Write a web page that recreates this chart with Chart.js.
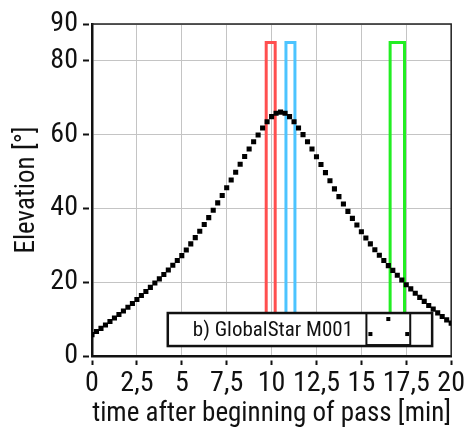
<!DOCTYPE html>
<html lang="en">
<head>
    <meta charset="UTF-8">
    <title>GlobalStar M001 pass</title>
    <style>
        body { margin: 0; background: #fff; }
        #wrap { width: 467px; height: 436px; }
    </style>
</head>
<body>
    <div id="wrap"><canvas id="passChart" width="467" height="436"></canvas></div>

    <script src="https://cdn.jsdelivr.net/npm/chart.js"></script>
    <script>
        // time after beginning of pass [min]
        const timeMin = [
            0, 0.25, 0.5, 0.75, 1, 1.25, 1.5, 1.75, 2, 2.25,
            2.5, 2.75, 3, 3.25, 3.5, 3.75, 4, 4.25, 4.5, 4.75,
            5, 5.25, 5.5, 5.75, 6, 6.25, 6.5, 6.75, 7, 7.25,
            7.5, 7.75, 8, 8.25, 8.5, 8.75, 9, 9.25, 9.5, 9.75,
            10, 10.25, 10.5, 10.75, 11, 11.25, 11.5, 11.75, 12, 12.25,
            12.5, 12.75, 13, 13.25, 13.5, 13.75, 14, 14.25, 14.5, 14.75,
            15, 15.25, 15.5, 15.75, 16, 16.25, 16.5, 16.75, 17, 17.25,
            17.5, 17.75, 18, 18.25, 18.5, 18.75, 19, 19.25, 19.5, 19.75,
            20
        ];
        // elevation [deg]
        const elevation = [
            5.8, 6.65, 7.5, 8.4, 9.35, 10.3, 11.25, 12.2, 13.2, 14.25,
            15.3, 16.4, 17.5, 18.6, 19.8, 20.9, 22.1, 23.3, 24.6, 25.9,
            27.2, 28.75, 30.4, 32.1, 33.8, 35.65, 37.5, 39.5, 41.5, 43.5,
            45.6, 47.7, 49.8, 52.0, 54.1, 56.1, 58.1, 59.9, 61.8, 63.5,
            64.9, 65.8, 66.1, 65.8, 64.9, 63.5, 61.8, 60.0, 58.1, 56.1,
            54.0, 51.9, 49.7, 47.5, 45.3, 43.2, 41.2, 39.2, 37.3, 35.5,
            33.7, 32.0, 30.4, 28.8, 27.3, 25.9, 24.5, 23.2, 21.9, 20.6,
            19.3, 18.2, 17.0, 15.9, 14.8, 13.7, 12.7, 11.7, 10.7, 9.8,
            8.9
        ];

        // the three coloured windows
        const windowStart = [9.7, 10.8, 16.6];
        const windowEnd = [10.2, 11.3, 17.4];
        const windowTop = [85, 85, 85];
        const windowBottom = [5, 5, 5];
        const windowColors = ['#ff4f4f', '#4cc4ff', '#22ee22'];

        const yTickValues = [0, 20, 40, 60, 80, 90];
        const legendText = 'b) GlobalStar M001';

        const FONT = "'Roboto Condensed', 'Liberation Sans', sans-serif";

        const datasets = [{
            label: 'elevation',
            type: 'line',
            data: timeMin.map((t, i) => ({ x: t, y: elevation[i] })),
            showLine: false,
            pointStyle: 'rect',
            pointRadius: 3.6,
            pointBorderWidth: 0,
            pointBackgroundColor: '#000',
            order: 0
        }];
        windowStart.forEach((s, i) => {
            datasets.push({
                label: 'window ' + i,
                type: 'line',
                data: [
                    { x: s, y: windowBottom[i] },
                    { x: s, y: windowTop[i] },
                    { x: windowEnd[i], y: windowTop[i] },
                    { x: windowEnd[i], y: windowBottom[i] }
                ],
                borderColor: windowColors[i],
                borderWidth: 3,
                pointRadius: 0,
                fill: false,
                tension: 0,
                order: 1
            });
        });

        // frame on top and right side
        const framePlugin = {
            id: 'frame',
            beforeDatasetsDraw(chart) {
                const { ctx, chartArea: a } = chart;
                ctx.save();
                ctx.strokeStyle = '#222';
                ctx.lineWidth = 1.5;
                ctx.beginPath();
                ctx.moveTo(a.left, a.top);
                ctx.lineTo(a.right, a.top);
                ctx.lineTo(a.right, a.bottom);
                ctx.stroke();
                ctx.restore();
            }
        };

        // legend box with the little satellite icon
        const legendBox = {
            id: 'legendBox',
            afterDatasetsDraw(chart) {
                const { ctx } = chart;
                const xs = chart.scales.x, ys = chart.scales.y;
                const l = xs.getPixelForValue(4.22), r = xs.getPixelForValue(18.94);
                const t = ys.getPixelForValue(11.65), b = ys.getPixelForValue(2.7);
                const il = xs.getPixelForValue(15.28), ir = xs.getPixelForValue(17.72);
                ctx.save();
                ctx.fillStyle = '#fff';
                ctx.fillRect(l, t, r - l, b - t);
                ctx.strokeStyle = '#111';
                ctx.lineWidth = 2.5;
                ctx.strokeRect(l, t, r - l, b - t);
                ctx.lineWidth = 2;
                ctx.strokeRect(il, t, ir - il, b - t - 1);
                ctx.fillStyle = '#000';
                const sq = (x, y) => ctx.fillRect(x - 2, y - 2, 4, 4);
                sq((il + ir) / 2, t + 6);
                sq(il + 4, b - 12);
                sq(ir - 3, b - 12);
                ctx.font = '21px ' + FONT;
                ctx.textBaseline = 'middle';
                ctx.fillStyle = '#111';
                ctx.fillText(legendText, l + 25, (t + b) / 2 + 1);
                ctx.restore();
            }
        };

        function makeChart() {
            new Chart(document.getElementById('passChart'), {
                type: 'line',
                data: { datasets: datasets },
                options: {
                    responsive: false,
                    animation: false,
                    layout: { padding: { left: 0, right: 15, top: 24, bottom: 0 } },
                    plugins: { legend: { display: false }, tooltip: { enabled: false } },
                    scales: {
                        x: {
                            type: 'linear',
                            min: 0,
                            max: 20,
                            afterFit: s => { s.height = 80; },
                            ticks: {
                                stepSize: 2.5,
                                autoSkip: false,
                                color: '#111',
                                padding: 2,
                                maxRotation: 0,
                                font: { family: FONT, size: 28 },
                                callback: v => String(v).replace('.', ',')
                            },
                            grid: {
                                color: '#c4c4c4',
                                lineWidth: 1,
                                tickLength: 9,
                                tickColor: '#111',
                                tickWidth: 2,
                                tickBorderDash: [6, 3],
                                tickBorderDashOffset: 6
                            },
                            border: { display: true, color: '#111', width: 2.5 },
                            title: {
                                display: true,
                                text: 'time after beginning of pass [min]',
                                color: '#111',
                                font: { family: FONT, size: 27 },
                                padding: { top: 0, bottom: 6 }
                            }
                        },
                        y: {
                            type: 'linear',
                            min: 0,
                            max: 90,
                            afterFit: s => { s.width = 92; },
                            afterBuildTicks: s => { s.ticks = yTickValues.map(v => ({ value: v })); },
                            ticks: {
                                color: '#111',
                                padding: 5,
                                autoSkip: false,
                                font: { family: FONT, size: 28 }
                            },
                            grid: {
                                color: '#c4c4c4',
                                lineWidth: 1,
                                tickLength: 9,
                                tickColor: '#111',
                                tickWidth: 2,
                                tickBorderDash: [6, 3]
                            },
                            border: { display: true, color: '#111', width: 2.5 },
                            title: {
                                display: true,
                                text: 'Elevation [°]',
                                color: '#111',
                                font: { family: FONT, size: 27 },
                                padding: { top: 11, bottom: 0 }
                            }
                        }
                    }
                },
                plugins: [framePlugin, legendBox]
            });
        }

        // make sure the condensed face is ready before the first draw
        document.fonts.load("28px 'Roboto Condensed'").then(makeChart, makeChart);
    </script>
</body>
</html>
